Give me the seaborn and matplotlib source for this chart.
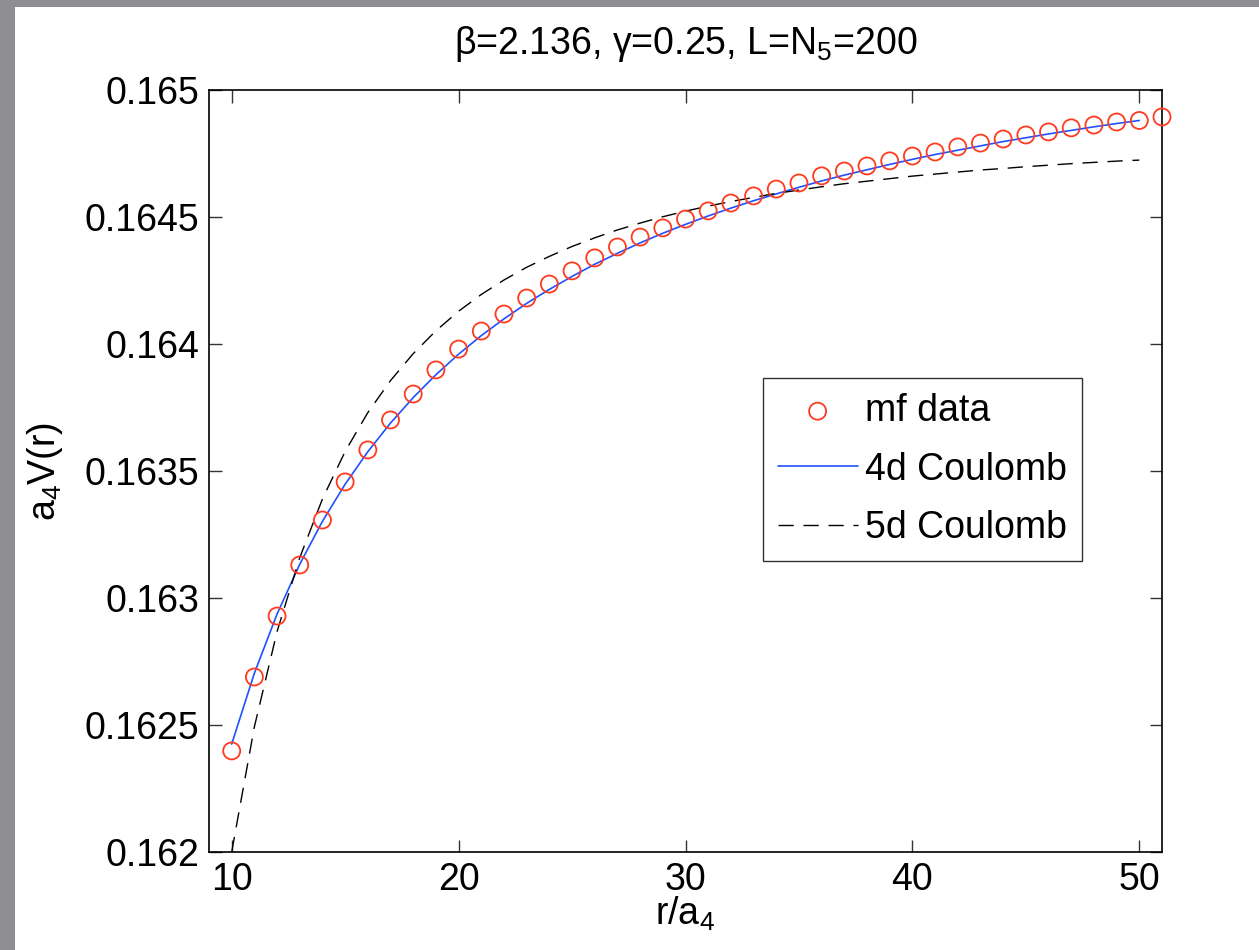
import numpy as np
import matplotlib
matplotlib.use("Agg")
import matplotlib.pyplot as plt
import seaborn as sns
from matplotlib.patches import Rectangle

# =============================================================================
# Data
# =============================================================================
r_data = list(range(10, 52))
v_data = [0.162398, 0.162689, 0.162929, 0.163130, 0.163307, 0.163457,
          0.163583, 0.163701, 0.163803, 0.163898, 0.163980, 0.164051,
          0.164118, 0.164181, 0.164236, 0.164288, 0.164339, 0.164382,
          0.164421, 0.164457, 0.164492, 0.164524, 0.164555, 0.164583,
          0.164610, 0.164634, 0.164662, 0.164681, 0.164701, 0.164721,
          0.164740, 0.164756, 0.164776, 0.164791, 0.164807, 0.164823,
          0.164835, 0.164851, 0.164862, 0.164874, 0.164880, 0.164894]

r_fit = list(range(10, 51))
v_4d = [0.162425, 0.162704, 0.162937, 0.163133, 0.163302, 0.163448,
        0.163576, 0.163689, 0.163789, 0.163879, 0.163960, 0.164033,
        0.164099, 0.164160, 0.164215, 0.164266, 0.164314, 0.164357,
        0.164398, 0.164436, 0.164471, 0.164504, 0.164535, 0.164564,
        0.164591, 0.164617, 0.164642, 0.164665, 0.164686, 0.164707,
        0.164727, 0.164746, 0.164763, 0.164780, 0.164797, 0.164812,
        0.164827, 0.164841, 0.164855, 0.164868, 0.164880]
v_5d = [0.162000, 0.162493, 0.162868, 0.163159, 0.163390, 0.163577,
        0.163730, 0.163856, 0.163962, 0.164052, 0.164129, 0.164195,
        0.164252, 0.164302, 0.164345, 0.164384, 0.164418, 0.164449,
        0.164476, 0.164501, 0.164523, 0.164543, 0.164561, 0.164577,
        0.164593, 0.164606, 0.164619, 0.164631, 0.164641, 0.164651,
        0.164661, 0.164669, 0.164677, 0.164685, 0.164691, 0.164698,
        0.164704, 0.164710, 0.164715, 0.164720, 0.164724]

x_ticks = [10, 20, 30, 40, 50]
y_ticks = [0.162, 0.1625, 0.163, 0.1635, 0.164, 0.1645, 0.165]
y_ticklabels = ['0.162', '0.1625', '0.163', '0.1635', '0.164', '0.1645', '0.165']

# =============================================================================
# Style
# =============================================================================
sns.set_style('ticks')
plt.rcParams['font.family'] = ['Liberation Sans', 'DejaVu Sans']
plt.rcParams['mathtext.fontset'] = 'custom'
plt.rcParams['mathtext.rm'] = 'Liberation Sans'
plt.rcParams['mathtext.it'] = 'Liberation Sans'
plt.rcParams['mathtext.default'] = 'regular'
plt.rcParams['text.color'] = 'black'
plt.rcParams['axes.labelcolor'] = 'black'
plt.rcParams['xtick.color'] = 'black'
plt.rcParams['ytick.color'] = 'black'

fig = plt.figure(figsize=(12.59, 9.5), dpi=100)
fig.patch.set_facecolor('white')
# bandes grises (fond de la capture)
fig.patches.append(Rectangle((0, 0), 15 / 1259, 1, transform=fig.transFigure,
                             facecolor='#8f8f92', edgecolor='none', zorder=-10))
fig.patches.append(Rectangle((0, 1 - 7 / 950), 1, 7 / 950, transform=fig.transFigure,
                             facecolor='#8f8f92', edgecolor='none', zorder=-10))
ax = fig.add_axes([209 / 1259, 1 - 852 / 950, 953 / 1259, 762 / 950])

sns.scatterplot(x=r_data, y=v_data, ax=ax, marker='o', s=150,
                facecolors='none', edgecolors='#ff3a1e', linewidth=1.3,
                label='mf data', clip_on=False, zorder=3)
sns.lineplot(x=r_fit, y=v_4d, ax=ax, color='#2050ff', linewidth=1.2,
             label='4d Coulomb', zorder=2)
sns.lineplot(x=r_fit, y=v_5d, ax=ax, color='black', linewidth=1.0,
             label='5d Coulomb', zorder=2)
ax.lines[-1].set_dashes((11, 7))

ax.set_xlim(9, 51)
ax.set_ylim(0.162, 0.165)
ax.set_xticks(x_ticks)
ax.set_yticks(y_ticks)
ax.set_yticklabels(y_ticklabels)
ax.tick_params(direction='in', length=9, width=1.0, labelsize=27,
               top=True, right=True, pad=7, color='#333333',
               labelcolor='black')
for sp in ax.spines.values():
    sp.set_linewidth(1.2)
    sp.set_color('black')

ax.set_title(r'β=2.136, γ=0.25, L=N$_5$=200', fontsize=27, pad=26)
ax.set_xlabel(r'r/a$_4$', fontsize=27, labelpad=-2)
ax.set_ylabel(r'a$_4$V(r)', fontsize=27, labelpad=14)

leg = ax.legend(loc='upper left', bbox_to_anchor=(0.581, 0.622),
                borderaxespad=0, fontsize=27, frameon=True, fancybox=False,
                handlelength=2.13, labelspacing=0.6, borderpad=0.4,
                handletextpad=0.2)
leg.get_frame().set_edgecolor('black')
leg.get_frame().set_linewidth(1.0)

fig.savefig('out.png', dpi=100, facecolor=fig.get_facecolor())
